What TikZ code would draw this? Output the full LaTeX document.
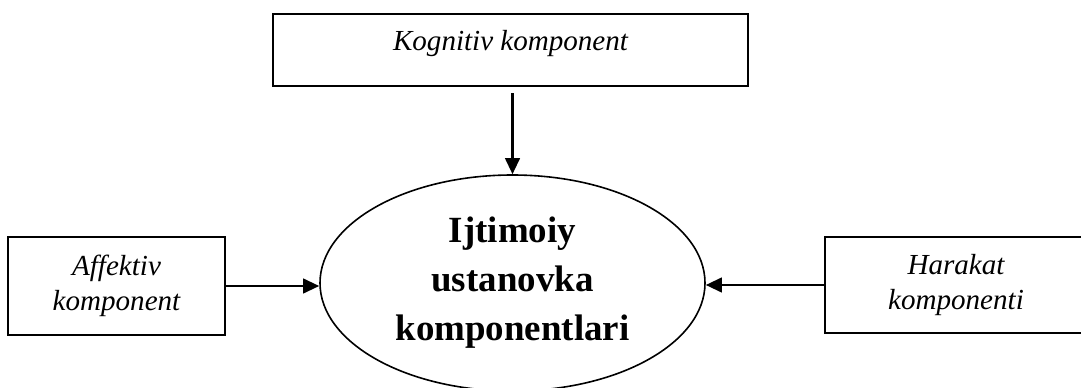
\documentclass[tikz,border=0pt]{standalone}
\usepackage{fontspec}
\setmainfont{Liberation Serif}
\usetikzlibrary{arrows.meta}
\usetikzlibrary{shapes.geometric}

\begin{document}
\begin{tikzpicture}[x=0.75pt,y=-0.75pt,
    box/.style={draw,line width=1.6pt,inner sep=0pt,align=center,
      font=\fontsize{21.8}{26.2}\selectfont\itshape},
    arr/.style={line width=1.6pt,-{Triangle[length=12pt,width=11pt]}}]
    \useasboundingbox (0,0) rectangle (1081,388);

    \node[box,minimum width=356.25pt,text height=27.75pt,text depth=26.25pt] (kog) at (510.5,50) {Kognitiv komponent};
    \node[box,minimum width=162.75pt,minimum height=73.5pt] (aff) at (116.5,286) {Affektiv\\komponent};
    \node[box,minimum width=196.5pt,minimum height=72pt] (har) at (956,285) {Harakat\\komponenti};

    \node[draw,ellipse,line width=1.2pt,inner sep=0pt,minimum width=288.75pt,minimum height=162pt,
      align=center,font=\fontsize{27.7}{36.75}\selectfont\bfseries] (ust) at (512.5,283)
      {Ijtimoiy\\ustanovka\\komponentlari};

    \draw[arr] ([yshift=-4.5pt]kog.south -| ust.north) -- (ust.north);
    \draw[arr] (aff.east) -- (aff.east -| ust.west);
    \draw[arr] (har.west) -- (har.west -| ust.east);
\end{tikzpicture}
\end{document}
